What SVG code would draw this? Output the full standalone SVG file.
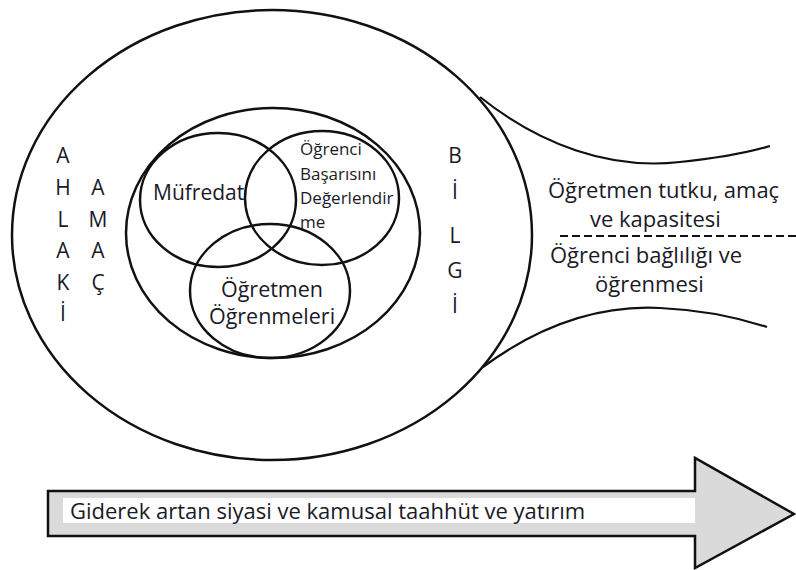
<svg xmlns="http://www.w3.org/2000/svg" width="796" height="570" viewBox="0 0 796 570">
<style>
.ln{fill:none;stroke:#111;stroke-width:2.5}
.hn{fill:none;stroke:#111;stroke-width:2.2}
.t{font-family:"Open Sans","Liberation Sans",sans-serif;fill:#1a1a28}
.c{text-anchor:middle}
</style>
<rect width="796" height="570" fill="#fff"/>
<g id="outer">
<ellipse class="ln" cx="272" cy="235" rx="260" ry="225"/>
</g>
<g id="connectors">
<path class="hn" d="M 480 97 C 540 145, 610 170, 680 162 C 720 158, 750 152, 770 146"/>
<path class="hn" d="M 483 367 C 540 325, 600 305, 660 308 C 710 310, 745 320, 767 327"/>
<line x1="560" y1="236" x2="796" y2="236" stroke="#111" stroke-width="2.2" stroke-dasharray="8,4"/>
</g>
<g id="middle">
<ellipse class="ln" cx="273" cy="233" rx="147" ry="125"/>
</g>
<g id="mufredat">
<ellipse class="ln" cx="218" cy="200" rx="78" ry="67"/>
<text class="t" x="153" y="200" font-size="21">Müfredat</text>
</g>
<g id="ogrenci-basari">
<ellipse class="ln" cx="322" cy="198" rx="77" ry="67"/>
<text class="t" font-size="17"><tspan x="300" y="155">Öğrenci</tspan><tspan x="300" y="180">Başarısını</tspan><tspan x="300" y="204">Değerlendir</tspan><tspan x="300" y="228">me</tspan></text>
</g>
<g id="ogretmen-ogrenme">
<ellipse class="ln" cx="270" cy="291" rx="80" ry="67"/>
<text class="t c" font-size="21.5"><tspan x="272" y="297">Öğretmen</tspan><tspan x="272" y="324">Öğrenmeleri</tspan></text>
</g>
<g id="ahlaki">
<text class="t c" font-size="21"><tspan x="63" y="163">A</tspan><tspan x="63" y="195">H</tspan><tspan x="63" y="227">L</tspan><tspan x="63" y="258">A</tspan><tspan x="63" y="290">K</tspan><tspan x="63" y="321">İ</tspan></text>
</g>
<g id="amac">
<text class="t c" font-size="21"><tspan x="98" y="195">A</tspan><tspan x="98" y="227">M</tspan><tspan x="98" y="258">A</tspan><tspan x="98" y="290">Ç</tspan></text>
</g>
<g id="bilgi">
<text class="t c" font-size="21"><tspan x="455" y="163">B</tspan><tspan x="455" y="199">İ</tspan><tspan x="455" y="243">L</tspan><tspan x="455" y="278">G</tspan><tspan x="455" y="313">İ</tspan></text>
</g>
<g id="ogretmen-tutku">
<text class="t" font-size="22"><tspan x="548" y="198">Öğretmen tutku, amaç</tspan><tspan x="590" y="227">ve kapasitesi</tspan></text>
</g>
<g id="ogrenci-baglilik">
<text class="t" font-size="22"><tspan x="550" y="263">Öğrenci bağlılığı ve</tspan><tspan x="595" y="292">öğrenmesi</tspan></text>
</g>
<g id="arrow">
<polygon points="48,491 695,491 695,458 794,514 695,568 695,536 48,536" fill="#dadada" stroke="#111" stroke-width="2.5" stroke-linejoin="miter"/>
<rect x="63" y="498" width="632" height="25" fill="#fff"/>
<text class="t" x="70" y="519" font-size="22">Giderek artan siyasi ve kamusal taahhüt ve yatırım</text>
</g>
</svg>
